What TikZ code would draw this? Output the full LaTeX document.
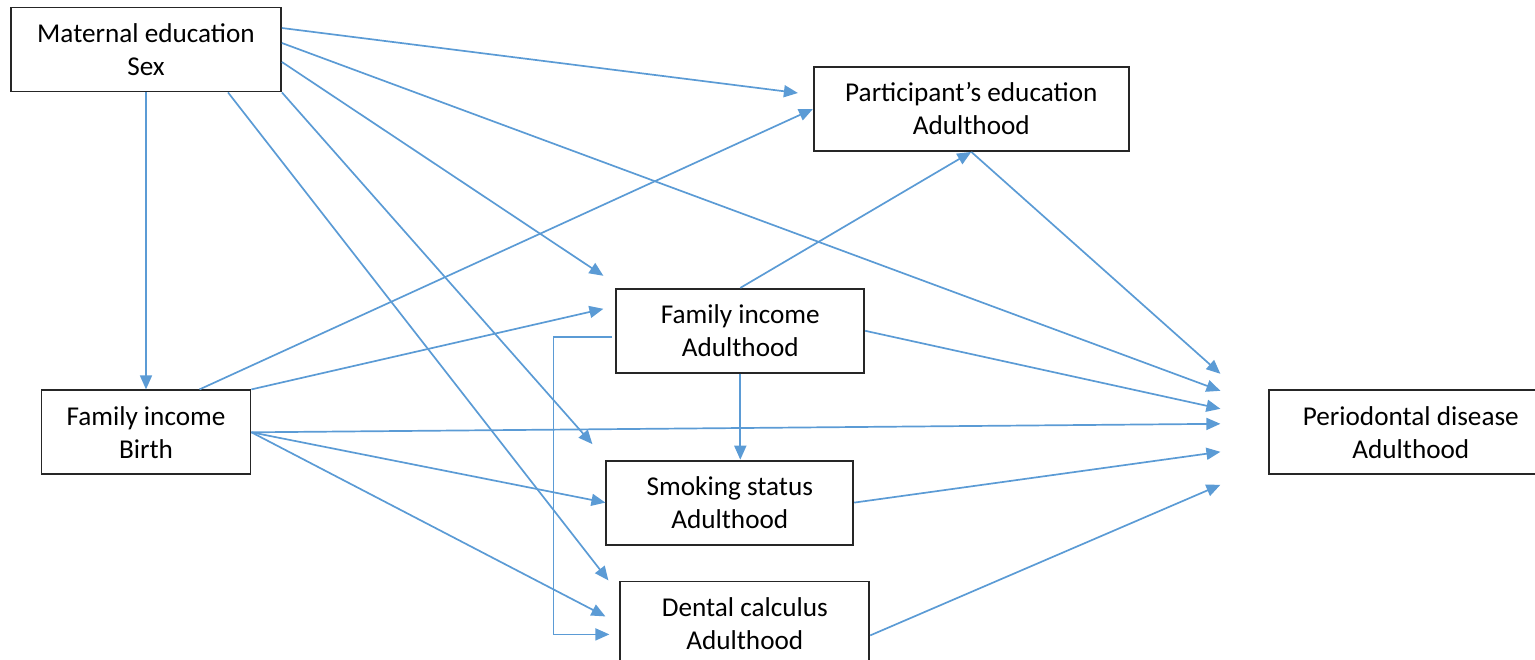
\documentclass[tikz,border=0pt]{standalone}
\usepackage{fontspec}
\setmainfont{Carlito}
\usepackage{tikz}
\usetikzlibrary{arrows.meta,positioning,calc}
\definecolor{linkblue}{HTML}{5B9BD5}

\begin{document}
\begin{tikzpicture}[
  x=0.5pt, y=-0.5pt,
  box/.style={draw=black!85, line width=0.9pt, minimum height=42pt, inner sep=0pt, align=center, font=\fontsize{13.6}{16.5}\selectfont},
  arr/.style={-{Triangle[length=7pt,width=6pt]}, draw=linkblue, line width=0.85pt}
]
  \useasboundingbox (0,0) rectangle (1535,659);
  \clip (0,0) rectangle (1535,659);

  % exposures (left column)
  \node[box, minimum width=135pt] (mated) at (146,49.5) {Maternal education\\Sex};
  \node[box, minimum width=104.5pt, below=148.5pt of mated] (incbirth) {Family income\\Birth};

  % mediators (middle)
  \node[box, minimum width=157.5pt, right=265.5pt of mated, yshift=-29.75pt] (parted) {Participant’s education\\Adulthood};
  \node[box, minimum width=124pt, right=182pt of incbirth, yshift=50.75pt] (incadult) {Family income\\Adulthood};
  \node[box, minimum width=123.5pt, below=43pt of incadult, xshift=-5.25pt] (smoking) {Smoking status\\Adulthood};
  \node[box, minimum width=124.5pt, below=17.5pt of smoking, xshift=7.5pt] (calculus) {Dental calculus\\Adulthood};

  % outcome (right), runs off the page edge
  \node[box, minimum width=141.5pt, right=508.5pt of incbirth] (perio) {Periodontal disease\\Adulthood};

  % from maternal education / sex
  \draw[arr] (mated.south) -- (incbirth.north);
  \draw[arr] ($(mated.east)+(0,-21.5)$) -- ($(parted.west)+(-15,-16)$);
  \draw[arr] ($(mated.east)+(0,-6.5)$) -- ($(perio.west)+(-48,-41.5)$);
  \draw[arr] ($(mated.east)+(0,12.5)$) -- ($(incadult.west)+(-12,-55)$);
  \draw[arr] (mated.south east) -- ($(smoking.west)+(-13,-58.5)$);
  \draw[arr] ($(mated.south)+(82,0)$) -- ($(calculus.west)+(-11,-43)$);

  % from family income at birth
  \draw[arr] ($(incbirth.north)+(53.5,0)$) -- (parted.west);
  \draw[arr] (incbirth.north east) -- ($(incadult.west)+(-12,-22)$);
  \draw[arr] (incbirth.east) -- ($(perio.west)+(-48,-8.5)$);
  \draw[arr] (incbirth.east) -- (smoking.west);
  \draw[arr] (incbirth.east) -- ($(calculus.west)+(-14,-7)$);

  % from family income in adulthood
  \draw[arr] (incadult.north) -- (parted.south);
  \draw[arr] (incadult.south) -- (incadult.south |- smoking.north);
  \draw[arr] (incadult.east) -- ($(perio.west)+(-48,-23.5)$);
  \draw[arr] ($(incadult.west)+(-3,6)$) -- ++(-59,0) |- ($(calculus.west)+(-10,11)$);

  % into periodontal disease
  \draw[arr] (parted.south) -- ($(perio.west)+(-48,-58.5)$);
  \draw[arr] (smoking.east) -- ($(perio.west)+(-48,19.5)$);
  \draw[arr] ($(calculus.east)+(0,12)$) -- ($(perio.west)+(-48,52.5)$);

\end{tikzpicture}
\end{document}
